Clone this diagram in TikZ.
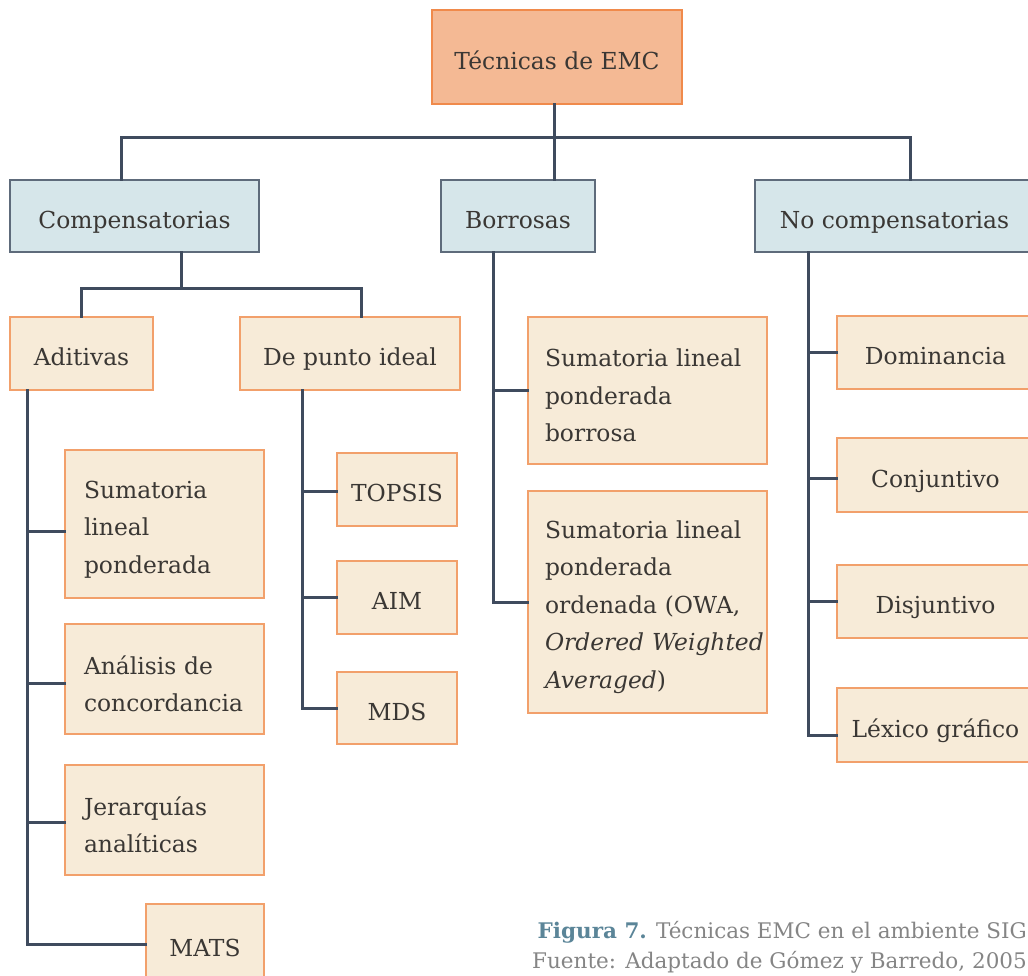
\documentclass[tikz,border=0pt]{standalone}
\usepackage{fontspec}
\setmainfont{DejaVu Serif}
\definecolor{txt}{HTML}{3A3734}
\definecolor{conncol}{HTML}{3F4B5E}
\definecolor{rootfill}{HTML}{F4B994}
\definecolor{rootdraw}{HTML}{F08A4B}
\definecolor{catfill}{HTML}{D6E6EA}
\definecolor{catdraw}{HTML}{5E6B7B}
\definecolor{leaffill}{HTML}{F7EBD8}
\definecolor{leafdraw}{HTML}{F2A06B}
\definecolor{figblue}{HTML}{5B8598}
\definecolor{capgray}{HTML}{858585}
\tikzset{
  box/.style={rectangle, inner sep=0pt, text=txt, line width=1.2pt,
    font=\fontsize{23.4}{37.5}\selectfont, align=center,
    text height=28pt, text depth=4pt},
  rootbox/.style={box, fill=rootfill, draw=rootdraw},
  catbox/.style={box, fill=catfill, draw=catdraw},
  leafbox/.style={box, fill=leaffill, draw=leafdraw},
  multiline/.style={align=left, text width=#1, text height=, text depth=,
    execute at begin node={\rule{0pt}{28pt}}},
  conn/.style={draw=conncol, line width=3pt, line cap=rect},
  capfont/.style={font=\fontsize{21.5}{30}\selectfont, inner sep=0pt}
}
\begin{document}
\begin{tikzpicture}[x=1pt, y=-1pt]
\useasboundingbox (0,0) rectangle (1028,975);

% spine and bus positions of the tree connectors
\coordinate (trunk) at (554,137);
\coordinate (busL) at (121,137);
\coordinate (busR) at (910,137);
\coordinate (c1) at (181,288);
\coordinate (c1r) at (361,288);
\coordinate (aspine) at (27,0);
\coordinate (pspine) at (302,0);
\coordinate (bspine) at (493,0);
\coordinate (nspine) at (808,0);

% root
\node[rootbox, minimum width=250, minimum height=94] (top) at (557,57) {Técnicas de EMC};

% categories
\node[catbox, minimum width=249, minimum height=72] (comp) at (134.5,216) {Compensatorias};
\node[catbox, minimum width=154, minimum height=72] (borr) at (518,216) {Borrosas};
\node[catbox, minimum width=279, minimum height=72] (nocomp) at (894.5,216) {No compensatorias};

% compensatory subgroups
\node[leafbox, minimum width=143, minimum height=73] (adit) at (81.5,353.5) {Aditivas};
\node[leafbox, minimum width=220, minimum height=73] (punto) at (350,353.5) {De punto ideal};

% additive techniques
\node[leafbox, minimum width=199, minimum height=148, multiline=161] (s1) at (164.5,524) {Sumatoria\\lineal\\ponderada};
\node[leafbox, minimum width=199, minimum height=110, multiline=161] (anal) at (164.5,679) {Análisis de\\concordancia};
\node[leafbox, minimum width=199, minimum height=110, multiline=161] (jer) at (164.5,820) {Jerarquías\\analíticas};
\node[leafbox, minimum width=118, minimum height=80] (mats) at (205,944) {MATS};

% ideal point techniques
\node[leafbox, minimum width=120, minimum height=73] (topsis) at (397,489.5) {TOPSIS};
\node[leafbox, minimum width=120, minimum height=73] (aim) at (397,597.5) {AIM};
\node[leafbox, minimum width=120, minimum height=72] (mds) at (397,708) {MDS};

% fuzzy techniques
\node[leafbox, minimum width=239, minimum height=147, multiline=205] (sb) at (647.5,390.5) {Sumatoria lineal\\ponderada\\borrosa};
\node[leafbox, minimum width=239, minimum height=222, multiline=205] (owa) at (647.5,602) {Sumatoria lineal\\ponderada\\ordenada (OWA,\\\mbox{\textit{Ordered Weighted}}\\\textit{Averaged})};

% non-compensatory techniques
\node[leafbox, minimum width=197, minimum height=73] (dom) at (935.5,352.5) {Dominancia};
\node[leafbox, minimum width=197, minimum height=74] (conj) at (935.5,475) {Conjuntivo};
\node[leafbox, minimum width=197, minimum height=73] (disj) at (935.5,601.5) {Disjuntivo};
\node[leafbox, minimum width=197, minimum height=74] (lex) at (935.5,725) {Léxico gráfico};

% tree connectors
\draw[conn] (top.south -| trunk) -- (borr.north -| trunk);
\draw[conn] (comp.north -| busL) |- (busR) -- (nocomp.north -| busR);

\draw[conn] (comp.south -| c1) -- (c1);
\draw[conn] (adit.north) |- (c1r) -- (punto.north -| c1r);

\draw[conn] (adit.south -| aspine) |- (mats.west);
\draw[conn] ([yshift=-7pt]s1.west -| aspine) -- ([yshift=-7pt]s1.west);
\draw[conn] ([yshift=-4pt]anal.west -| aspine) -- ([yshift=-4pt]anal.west);
\draw[conn] ([yshift=-2pt]jer.west -| aspine) -- ([yshift=-2pt]jer.west);

\draw[conn] (punto.south -| pspine) |- (mds.west);
\draw[conn] ([yshift=-2pt]topsis.west -| pspine) -- ([yshift=-2pt]topsis.west);
\draw[conn] (aim.west -| pspine) -- (aim.west);

\draw[conn] (borr.south -| bspine) |- (owa.west);
\draw[conn] (sb.west -| bspine) -- (sb.west);

\draw[conn] (nocomp.south -| nspine) |- ([yshift=-10pt]lex.west);
\draw[conn] (dom.west -| nspine) -- (dom.west);
\draw[conn] ([yshift=-3pt]conj.west -| nspine) -- ([yshift=-3pt]conj.west);
\draw[conn] (disj.west -| nspine) -- (disj.west);

% caption
\node[capfont, anchor=base east, text=capgray] (cap1) at (1027,938)
  {\textcolor{figblue}{\textbf{Figura 7.}} Técnicas EMC en el ambiente SIG};
\node[capfont, anchor=base east, text=capgray] (cap2) at (1027,968)
  {Fuente: Adaptado de Gómez y Barredo, 2005};
\end{tikzpicture}
\end{document}
